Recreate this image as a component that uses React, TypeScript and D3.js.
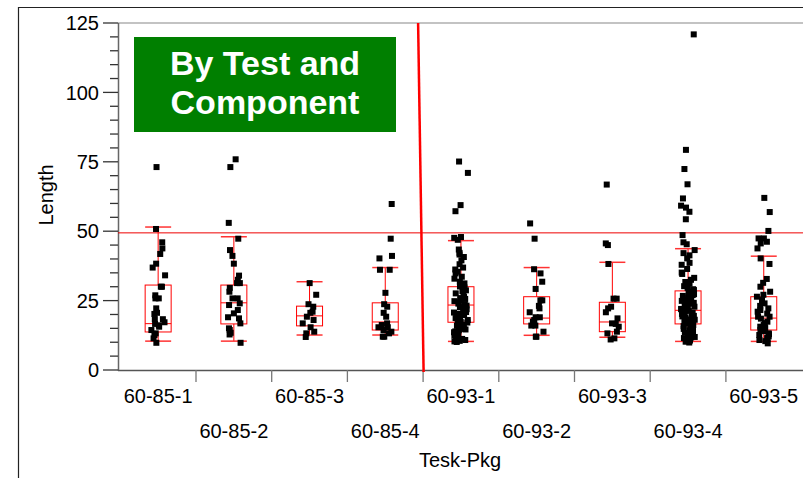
import React from "react";
import { scaleBand, scaleLinear, range } from "d3";

const width = 803, height = 478

const categories = ["60-85-1", "60-85-2", "60-85-3", "60-85-4", "60-93-1", "60-93-2", "60-93-3", "60-93-4", "60-93-5"]

// raw lengths, one list per test-pkg
const pts6085_1 = [73.1, 50.8, 46, 43.8, 41.8, 38.3, 36.9, 34.1, 30, 30, 26.9, 25.8, 25.8, 22.2, 20.6, 20.2, 18.3, 18.3, 16.6, 15.6, 14.4, 13.2, 12.6, 11.4, 9.8, 17.2, 16.1]
const pts6085_2 = [75.9, 73.1, 53, 47.3, 43.2, 41.1, 38.3, 34, 32.5, 31.3, 31.3, 29.6, 28.2, 25.8, 25.8, 24, 23.4, 21.6, 20.4, 19, 18.6, 16.8, 15, 14.4, 13.4, 12.8, 9.8]
const pts6085_3 = [31.3, 27.1, 23.7, 22.8, 21, 20.6, 19.2, 18, 16.8, 15.4, 13.8, 13.2, 11.9]
const pts6085_4 = [59.8, 47.3, 41.1, 40.2, 36.1, 36.1, 27.8, 23.7, 22.8, 20.6, 19.2, 16.8, 16.2, 15.4, 15.4, 14.4, 13.8, 13.2, 12, 12]
const pts6093_1 = [75.1, 71.0, 59.4, 57.2, 47.9, 47.6, 46.9, 43.4, 42.2, 41.6, 40.7, 39.5, 38.1, 36.9, 36.2, 35.4, 34.8, 33.6, 32.9, 31.8, 31.2, 30.6, 30.1, 29.3, 28.7, 28.4, 27.6, 27.1, 26.3, 25.9, 25.6, 24.8, 24.4, 23.9, 23.7, 23.2, 22.6, 22.3, 21.9, 21.4, 21.1, 20.7, 20.2, 19.8, 19.6, 19.1, 18.7, 18.4, 18.0, 17.7, 17.3, 16.9, 16.6, 16.2, 15.9, 15.4, 15.1, 14.8, 14.3, 13.9, 13.6, 13.1, 12.7, 12.4, 11.9, 11.6, 11.2, 10.8, 10.5, 10.1, 10.3, 20.9, 25.2, 29.8, 17.1, 14.6, 12.2]
const pts6093_2 = [52.8, 47.3, 36.3, 34.8, 31.8, 29.2, 25.1, 25.1, 23.1, 22.2, 20.8, 19, 19, 18, 17.4, 16, 16, 13.8, 12, 12]
const pts6093_3 = [66.8, 45.6, 45, 38.2, 25.7, 25.7, 22.8, 22.2, 20.8, 18.6, 16.8, 16.6, 15.6, 13.8, 13.2, 11.4, 11]
const pts6093_4 = [120.9, 79.3, 72.4, 66.9, 61.8, 59.2, 58.5, 57.0, 54.3, 48.6, 46.0, 45.3, 43.2, 42.1, 41.3, 40.2, 38.6, 37.9, 36.4, 35.1, 34.6, 33.2, 32.5, 31.7, 31.1, 30.8, 30.2, 29.6, 29.1, 28.8, 28.2, 27.9, 27.3, 27.0, 26.7, 26.1, 25.8, 25.3, 24.9, 24.5, 24.2, 23.9, 23.4, 23.1, 22.8, 22.3, 22.0, 21.8, 21.3, 21.1, 20.6, 20.4, 20.2, 19.7, 19.5, 19.3, 18.8, 18.6, 18.2, 18.0, 17.6, 17.4, 17.2, 16.8, 16.4, 16.2, 15.8, 15.6, 15.2, 15.0, 14.8, 14.3, 14.1, 13.7, 13.5, 13.3, 12.8, 12.6, 12.4, 11.9, 11.7, 11.5, 11.0, 10.8, 10.6, 10.2, 9.9, 25.1, 21.9, 18.1, 14.9, 12.1, 10.4]
const pts6093_5 = [62, 56.9, 50.1, 47.4, 47.4, 46.2, 45.6, 43.8, 40.2, 38.2, 32.8, 31.4, 30, 28.2, 27.1, 26.4, 25.2, 24, 23.1, 22.2, 21.6, 21, 20.3, 19.2, 19.2, 18.5, 17.4, 16.9, 16.2, 15.6, 15.1, 14.4, 14, 13.2, 12.9, 12.6, 12.1, 11.6, 11.2, 10.8, 10.4, 9.6]

const points = [pts6085_1, pts6085_2, pts6085_3, pts6085_4, pts6093_1, pts6093_2, pts6093_3, pts6093_4, pts6093_5]

// box stats
const q1s = [13.7, 16.6, 15.9, 14.4, 17.2, 16.6, 13.8, 16.6, 14.4]
const medians = [16.7, 24.2, 19.5, 17.3, 23.4, 18.7, 17.3, 21.5, 18.7]
const q3s = [30.6, 30.6, 23, 24.2, 30, 26.4, 24.4, 28.5, 26.4]
const whiskerLo = [10.4, 10.4, 12.6, 12.6, 10.3, 12.5, 11.8, 10.3, 10.3]
const whiskerHi = [51.5, 48, 31.8, 36.9, 46.6, 36.9, 38.8, 43.7, 41]

const refLine = 49.4
const yTicks = [0, 25, 50, 75, 100, 125]

const font = "Arial, 'Liberation Sans', sans-serif"

const App = () => {
  const x = scaleBand().domain(categories).range([120.3, 120.3 + 9 * 75.7])
  const y = scaleLinear().domain([0, 125]).range([370, 23])
  const bw = 26
  // spread the points sideways a little so they do not all sit on one line
  const jitter = (i: number) => {
    const s = Math.sin(i * 12.9898 + 4.1) * 43758.5453
    return (s - Math.floor(s) - 0.5) * 14
  }

  const minor = range(0, 126, 5).filter(v => v % 25 !== 0)
  const split = x("60-93-1")!

  return <div style={{ position: "fixed", top: 0, left: 0 }}>
    <svg width={width} height={height} style={{ display: "block", fontFamily: font }}>
      <rect width={width} height={height} fill="white" />
      {/* outer frame */}
      <line x1={18} x2={width} y1={7.5} y2={7.5} stroke="#222" strokeWidth={1.2} />
      <line x1={18.5} x2={18.5} y1={7} y2={height} stroke="#222" strokeWidth={1.2} />

      {/* plot frame */}
      <line x1={118} x2={width} y1={23} y2={23} stroke="#888" strokeWidth={1.2} />
      <line x1={118.5} x2={118.5} y1={23} y2={371} stroke="#666" strokeWidth={1.5} />
      <line x1={118} x2={width} y1={370.5} y2={370.5} stroke="#555" strokeWidth={1.5} />

      {/* y axis */}
      {yTicks.map(t => <g key={t}>
        <line x1={103} x2={118} y1={y(t)} y2={y(t)} stroke="#333" strokeWidth={1.3} />
        <text x={99} y={y(t)} dy="0.36em" textAnchor="end" fontSize={20}>{t}</text>
      </g>)}
      {minor.map(t => <line key={t} x1={110} x2={118} y1={y(t)} y2={y(t)} stroke="#333" strokeWidth={1.3} />)}
      <text transform={`translate(53,195) rotate(-90)`} textAnchor="middle" fontSize={20}>Length</text>

      {/* x axis */}
      {categories.slice(1).map(c => <line key={c} x1={x(c)} x2={x(c)} y1={370} y2={382} stroke="#777" strokeWidth={1.3} />)}
      {categories.map((c, i) => <text key={c} x={x(c)! + x.bandwidth() / 2} y={i % 2 === 0 ? 403 : 438}
        textAnchor="middle" fontSize={20}>{c}</text>)}
      <text x={460} y={467} textAnchor="middle" fontSize={20}>Tesk-Pkg</text>

      {/* reference line */}
      <line x1={118} x2={width} y1={y(refLine)} y2={y(refLine)} stroke="#e00" strokeWidth={1} />

      {/* boxes */}
      {categories.map((c, i) => {
        const cx = x(c)! + x.bandwidth() / 2
        return <g key={c} stroke="#f00" fill="none">
          <line x1={cx} x2={cx} y1={y(whiskerHi[i])} y2={y(q3s[i])} strokeWidth={1} />
          <line x1={cx} x2={cx} y1={y(q1s[i])} y2={y(whiskerLo[i])} strokeWidth={1} />
          <line x1={cx - bw / 2} x2={cx + bw / 2} y1={y(whiskerHi[i])} y2={y(whiskerHi[i])} stroke="#f33" strokeWidth={1.5} />
          <line x1={cx - bw / 2} x2={cx + bw / 2} y1={y(whiskerLo[i])} y2={y(whiskerLo[i])} stroke="#f33" strokeWidth={1.5} />
          <rect x={cx - bw / 2} y={y(q3s[i])} width={bw} height={y(q1s[i]) - y(q3s[i])} strokeWidth={1} />
          <line x1={cx - bw / 2} x2={cx + bw / 2} y1={y(medians[i])} y2={y(medians[i])} strokeWidth={1} />
        </g>
      })}

      {/* points */}
      {categories.map((c, i) => {
        const cx = x(c)! + x.bandwidth() / 2
        return <g key={c} fill="black">
          {points[i].map((v, j) => <rect key={j} x={cx + jitter(j + i * 31) - 3} y={y(v) - 3} width={6} height={6} />)}
        </g>
      })}

      {/* separator between the two tests */}
      <line x1={split - 5} x2={split + 0.5} y1={y(125)} y2={y(0) + 2} stroke="#f00" strokeWidth={2.5} />

      {/* label box */}
      <rect x={134} y={37} width={262} height={95} fill="#007f00" />
      <text x={265} y={75} textAnchor="middle" fontSize={34} fontWeight="bold" fill="white">By Test and</text>
      <text x={265} y={114} textAnchor="middle" fontSize={34} fontWeight="bold" fill="white">Component</text>
    </svg>
  </div>
}

export default App;
